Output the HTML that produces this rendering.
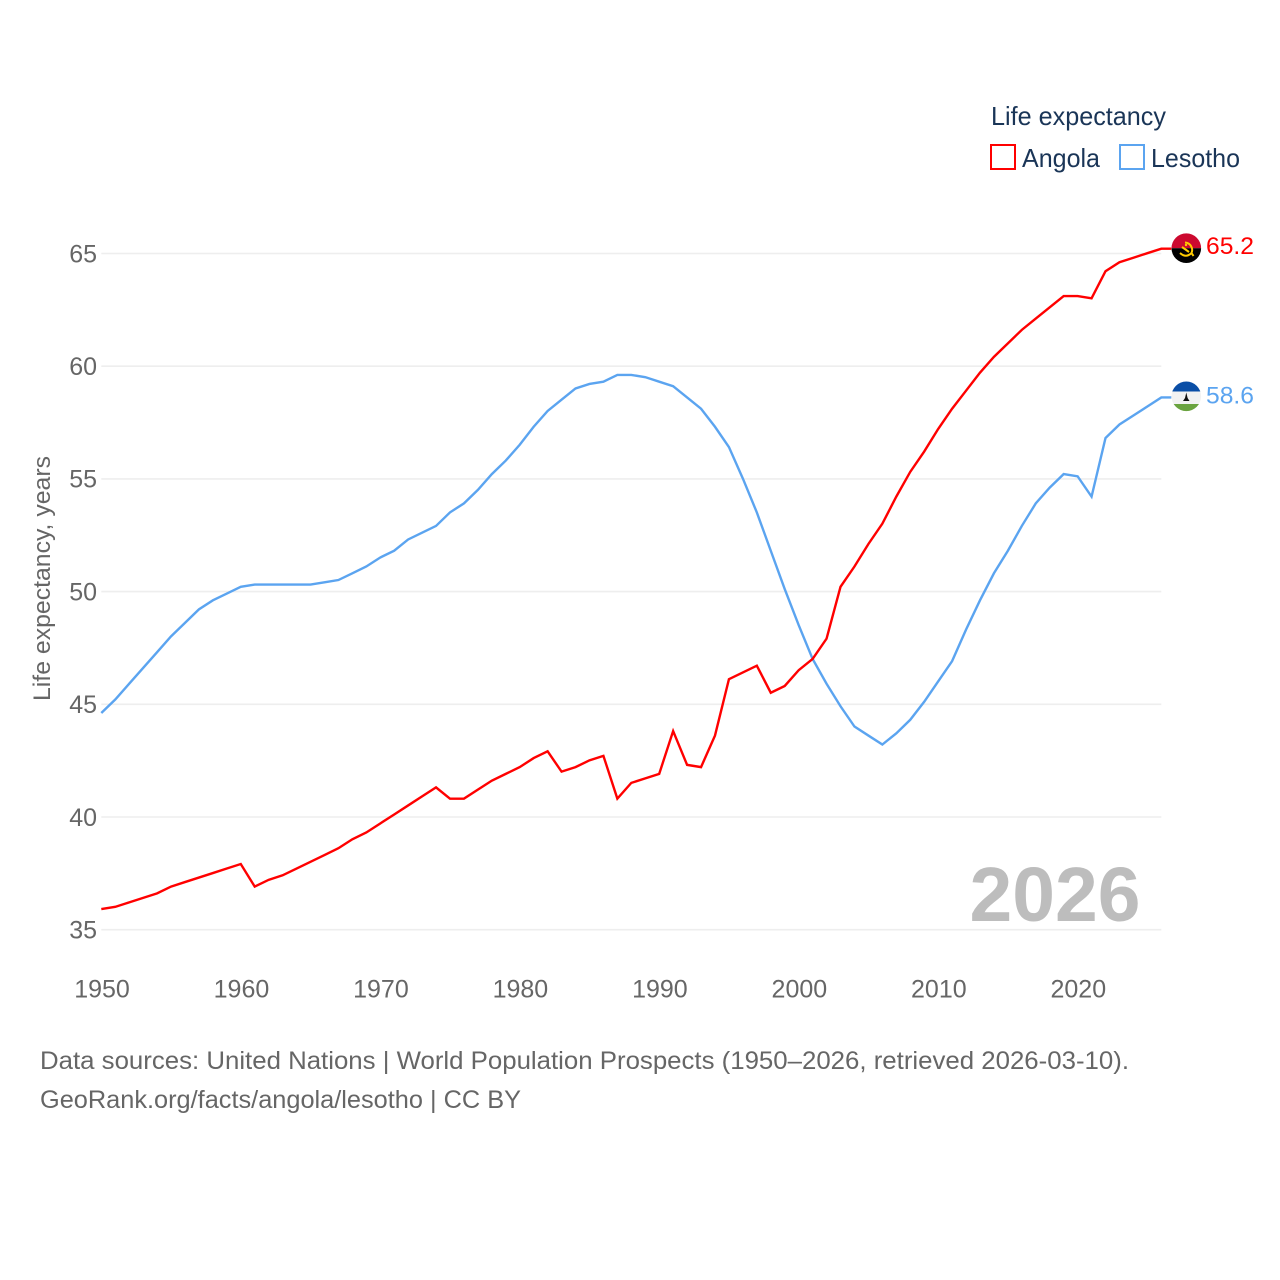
<!DOCTYPE html>
<html lang="en">
<head>
<meta charset="utf-8">
<title>Life expectancy: Angola and Lesotho</title>
<style>
html,body{margin:0;padding:0;background:#fff}
svg{display:block}
text{font-family:"Liberation Sans",sans-serif}
</style>
</head>
<body>
<svg id="chart" width="1280" height="1280" viewBox="0 0 1280 1280" xmlns="http://www.w3.org/2000/svg">
  <rect width="1280" height="1280" fill="#fff"/>
  <g id="grid"></g>
  <g id="yticks"></g>
  <g id="xticks"></g>
  <text transform="translate(50,701) rotate(-90)" font-size="24" fill="#666" textLength="245" lengthAdjust="spacingAndGlyphs">Life expectancy, years</text>
  <text x="969.5" y="921" font-size="77" font-weight="bold" fill="#bdbdbd" textLength="171" lengthAdjust="spacingAndGlyphs">2026</text>
  <g id="series"></g>

  <g>
    <text x="991" y="125" font-size="26" fill="#1a3557" textLength="175" lengthAdjust="spacingAndGlyphs">Life expectancy</text>
    <rect x="991" y="145" width="24" height="24" fill="#fff" stroke="#ff0000" stroke-width="2"/>
    <text x="1022" y="167" font-size="26" fill="#1a3557" textLength="78" lengthAdjust="spacingAndGlyphs">Angola</text>
    <rect x="1120" y="145" width="24" height="24" fill="#fff" stroke="#5ba4f0" stroke-width="2"/>
    <text x="1151" y="167" font-size="26" fill="#1a3557" textLength="89" lengthAdjust="spacingAndGlyphs">Lesotho</text>
  </g>

  <defs>
    <clipPath id="clip-angola"><circle cx="1186.3" cy="248.2" r="14.8"/></clipPath>
    <clipPath id="clip-lesotho"><circle cx="1186.3" cy="396.3" r="14.8"/></clipPath>
  </defs>
  <g clip-path="url(#clip-angola)">
    <rect x="1171" y="233" width="31" height="15.2" fill="#cc092f"/>
    <rect x="1171" y="248.2" width="31" height="15.2" fill="#000"/>
    <path d="M1185 242.5 A7.5 7.5 0 0 1 1191.5 253 L1193.5 256 M1180 253 Q1186 258.5 1191.5 253" fill="none" stroke="#ffcb00" stroke-width="2"/>
    <path d="M1182 247 L1189 252" stroke="#ffcb00" stroke-width="2"/>
    <circle cx="1186" cy="245" r="1.2" fill="#ffcb00"/>
  </g>
  <g clip-path="url(#clip-lesotho)">
    <rect x="1171" y="381" width="31" height="10.5" fill="#0a4ea6"/>
    <rect x="1171" y="391.5" width="31" height="12.5" fill="#f2f2f2"/>
    <rect x="1171" y="404" width="31" height="8" fill="#6aa33f"/>
    <path d="M1186.3 392.5 L1187.6 398 L1189.5 401 L1183 401 L1185 398 Z" fill="#111"/>
  </g>
  <text x="1206" y="254" font-size="24.5" fill="#ff0000" textLength="48" lengthAdjust="spacingAndGlyphs">65.2</text>
  <text x="1206" y="403.5" font-size="24.5" fill="#5ba4f0" textLength="48" lengthAdjust="spacingAndGlyphs">58.6</text>

  <text x="40" y="1069" font-size="25" fill="#666" textLength="1089" lengthAdjust="spacingAndGlyphs">Data sources: United Nations | World Population Prospects (1950–2026, retrieved 2026-03-10).</text>
  <text x="40" y="1108" font-size="25" fill="#666" textLength="481" lengthAdjust="spacingAndGlyphs">GeoRank.org/facts/angola/lesotho | CC BY</text>
</svg>
<script>
const years = [1950,1951,1952,1953,1954,1955,1956,1957,1958,1959,1960,1961,1962,1963,1964,1965,1966,1967,1968,1969,1970,1971,1972,1973,1974,1975,1976,1977,1978,1979,1980,1981,1982,1983,1984,1985,1986,1987,1988,1989,1990,1991,1992,1993,1994,1995,1996,1997,1998,1999,2000,2001,2002,2003,2004,2005,2006,2007,2008,2009,2010,2011,2012,2013,2014,2015,2016,2017,2018,2019,2020,2021,2022,2023,2024,2025,2026];
const angola = [35.9,36.0,36.2,36.4,36.6,36.9,37.1,37.3,37.5,37.7,37.9,36.9,37.2,37.4,37.7,38.0,38.3,38.6,39.0,39.3,39.7,40.1,40.5,40.9,41.3,40.8,40.8,41.2,41.6,41.9,42.2,42.6,42.9,42.0,42.2,42.5,42.7,40.8,41.5,41.7,41.9,43.8,42.3,42.2,43.6,46.1,46.4,46.7,45.5,45.8,46.5,47.0,47.9,50.2,51.1,52.1,53.0,54.2,55.3,56.2,57.2,58.1,58.9,59.7,60.4,61.0,61.6,62.1,62.6,63.1,63.1,63.0,64.2,64.6,64.8,65.0,65.2];
const lesotho = [44.6,45.2,45.9,46.6,47.3,48.0,48.6,49.2,49.6,49.9,50.2,50.3,50.3,50.3,50.3,50.3,50.4,50.5,50.8,51.1,51.5,51.8,52.3,52.6,52.9,53.5,53.9,54.5,55.2,55.8,56.5,57.3,58.0,58.5,59.0,59.2,59.3,59.6,59.6,59.5,59.3,59.1,58.6,58.1,57.3,56.4,55.0,53.5,51.8,50.1,48.5,47.0,45.9,44.9,44.0,43.6,43.2,43.7,44.3,45.1,46.0,46.9,48.3,49.6,50.8,51.8,52.9,53.9,54.6,55.2,55.1,54.2,56.8,57.4,57.8,58.2,58.6];
const yTickValues = [35,40,45,50,55,60,65];
const xTickValues = [1950,1960,1970,1980,1990,2000,2010,2020];

const NS = 'http://www.w3.org/2000/svg';
const xScale = v => 101.3 + (v - 1950) * (1161.3 - 101.3) / (2026 - 1950);
const yScale = v => 929.7 - (v - 35) * (929.7 - 253.5) / (65 - 35);

function make(tag, attrs, parent) {
  const el = document.createElementNS(NS, tag);
  for (const k in attrs) el.setAttribute(k, attrs[k]);
  parent.appendChild(el);
  return el;
}

const gridG = document.getElementById('grid');
const yG = document.getElementById('yticks');
const xG = document.getElementById('xticks');
const seriesG = document.getElementById('series');

yTickValues.forEach(v => {
  const line = make('line', {x1: xScale(1950), x2: xScale(2026), y1: yScale(v), y2: yScale(v), stroke: '#eeeeee', 'stroke-width': 1.6}, gridG);
  
  
  const t = make('text', {x: 97, y: yScale(v) + 8.8, 'text-anchor': 'end', 'font-size': 25, fill: '#666'}, yG);
  
  
  t.textContent = v;
});

xTickValues.forEach(v => {
  const t = make('text', {x: xScale(v) + 0.7, y: 997.7, 'text-anchor': 'middle', 'font-size': 25, fill: '#666'}, xG);
  
  
  t.textContent = v;
});

function drawSeries(values, color, name) {
  const pts = values.map((v, i) => xScale(years[i]).toFixed(2) + ',' + (yScale(v) - 0.3).toFixed(2));
  const last = values[values.length - 1];
  pts.push((xScale(years[years.length - 1]) + 10).toFixed(2) + ',' + (yScale(last) - 0.3).toFixed(2));
  const line = make('polyline', {points: pts.join(' '), fill: 'none', stroke: color, 'stroke-width': 2.4, 'stroke-linejoin': 'miter'}, seriesG);
  
  
}
drawSeries(lesotho, '#5ba4f0', 'lesotho-line');
drawSeries(angola, '#ff0000', 'angola-line');
</script>
</body>
</html>
